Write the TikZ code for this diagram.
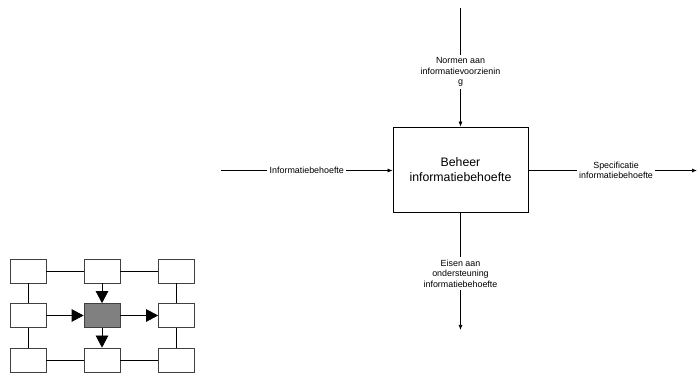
\documentclass[tikz,border=0pt]{standalone}
\usepackage{fontspec}
\setmainfont{Liberation Sans}
\usetikzlibrary{arrows.meta}
\definecolor{midgray}{RGB}{128,128,128}
\begin{document}
\begin{tikzpicture}[x=1pt,y=-1pt,
  mainbox/.style={draw, line width=0.8pt, minimum width=135pt, minimum height=85pt, align=center, font=\fontsize{12.3}{15}\selectfont, inner sep=0pt},
  lbl/.style={fill=white, align=center, font=\fontsize{8.9}{10.5}\selectfont, inner sep=2.5pt},
  conn/.style={line width=0.7pt, -{Latex[length=5pt,width=4pt]}},
  smallbox/.style={draw=black!75, line width=0.7pt, minimum width=36pt, minimum height=24pt, inner sep=0pt},
  grayb/.style={smallbox, fill=midgray},
  gline/.style={line width=0.7pt},
  garrow/.style={line width=0.7pt, -{Triangle[length=12pt,width=12.5pt]}}
]
\useasboundingbox (0,0) rectangle (697,374);

\node[mainbox] (B) at (460.5,169.5) {Beheer\\informatiebehoefte};

\coordinate (topS) at (460.5,8);
\coordinate (leftS) at (221,170.5);
\coordinate (rightE) at (697,170.5);
\coordinate (botE) at (460.5,330);

\draw[conn] (topS) -- node[lbl, pos=0.54] {Normen aan\\informatievoorzienin\\g} (B.north);
\draw[conn] (leftS) -- node[lbl] {Informatiebehoefte} (B.west |- leftS);
\draw[conn] (B.east |- rightE) -- node[lbl, pos=0.52] {Specificatie\\informatiebehoefte} (rightE);
\draw[conn] (B.south) -- node[lbl, pos=0.52] {Eisen aan\\ondersteuning\\informatiebehoefte} (botE);

% small grid
\node[smallbox] (a1) at (28,271) {};
\node[smallbox] (a2) at (102,271) {};
\node[smallbox] (a3) at (176.5,271) {};
\node[smallbox] (b1) at (28,315.5) {};
\node[grayb]    (b2) at (102,315.5) {};
\node[smallbox] (b3) at (176.5,315.5) {};
\node[smallbox] (c1) at (28,360) {};
\node[smallbox] (c2) at (102,360) {};
\node[smallbox] (c3) at (176.5,360) {};

\draw[gline] (a1) -- (a2);
\draw[gline] (a2) -- (a3);
\draw[gline] (c1) -- (c2);
\draw[gline] (c2) -- (c3);
\draw[gline] (a1) -- (b1);
\draw[gline] (b1) -- (c1);
\draw[gline] (a3) -- (b3);
\draw[gline] (b3) -- (c3);
\draw[garrow] (b1) -- (b2);
\draw[garrow] (a2) -- (b2);
\draw[garrow] (b2) -- (c2);
\draw[garrow] (b2) -- (b3);
\end{tikzpicture}
\end{document}
